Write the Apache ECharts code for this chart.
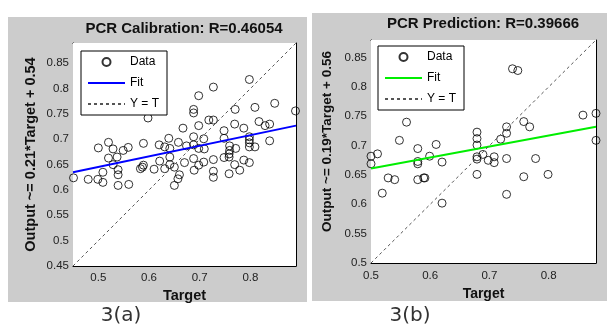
<!DOCTYPE html>
<html><head><meta charset="utf-8">
<script src="https://cdn.jsdelivr.net/npm/echarts@6/dist/echarts.min.js"></script>
<style>html,body{margin:0;padding:0;background:#fff}#c{width:608px;height:327px}</style>
</head><body><div id="c"></div>
<script>
// ---- Calibration (3a) ----
const calTarget = [0.598,0.520,0.500,0.529,0.549,0.559,0.589,0.520,0.537,0.529,0.539,0.509,0.539,0.451,0.480,0.499,0.509,0.539,0.560,0.583,0.589,0.587,0.610,0.620,0.631,0.639,0.641,0.641,0.658,0.621,0.631,0.641,0.650,0.660,0.657,0.650,0.667,
  0.798,0.727,0.698,0.688,0.688,0.770,0.809,0.848,0.889,0.718,0.727,0.698,0.748,0.769,0.787,0.817,0.829,0.838,0.838,0.798,0.798,0.798,0.809,0.798,0.688,0.708,0.748,0.674,0.688,0.698,0.709,0.759,0.759,0.758,0.771,0.670,0.688,0.698,0.708,0.727,0.748,0.758,0.787,0.798,0.769,0.779,0.689,0.727,0.727,0.758];
const calOutput = [0.742,0.694,0.683,0.681,0.678,0.684,0.692,0.663,0.665,0.650,0.640,0.635,0.630,0.624,0.621,0.621,0.615,0.609,0.611,0.642,0.649,0.645,0.641,0.689,0.685,0.702,0.682,0.665,0.694,0.657,0.642,0.650,0.645,0.630,0.622,0.609,0.722,
  0.818,0.803,0.786,0.759,0.752,0.759,0.763,0.771,0.756,0.738,0.738,0.727,0.717,0.730,0.722,0.735,0.727,0.730,0.697,0.705,0.699,0.693,0.685,0.685,0.705,0.701,0.702,0.687,0.689,0.682,0.681,0.687,0.678,0.671,0.682,0.654,0.662,0.649,0.655,0.660,0.664,0.665,0.659,0.654,0.650,0.639,0.639,0.637,0.625,0.632];
const calFitX = [0.45, 0.89];
const calFitY = [0.635, 0.727];
const calLimits = [0.45, 0.89];
const calXTicks = [0.5, 0.6, 0.7, 0.8];
const calYTicks = [0.45, 0.5, 0.55, 0.6, 0.65, 0.7, 0.75, 0.8, 0.85];

// ---- Prediction (3b) ----
const predTarget = [0.560,0.548,0.579,0.610,0.500,0.511,0.500,0.579,0.579,0.599,0.620,0.529,0.540,0.579,0.589,0.591,0.519,0.620,
  0.679,0.679,0.679,0.679,0.679,0.679,0.739,0.748,0.729,0.729,0.719,0.758,0.768,0.858,0.880,0.880,0.689,0.698,0.708,0.708,0.729,0.778,0.758,0.799,0.729];
const predOutput = [0.740,0.709,0.695,0.702,0.682,0.686,0.669,0.673,0.669,0.682,0.672,0.645,0.642,0.642,0.645,0.645,0.619,0.602,
  0.723,0.712,0.701,0.681,0.677,0.651,0.831,0.828,0.732,0.721,0.711,0.741,0.732,0.752,0.755,0.709,0.685,0.675,0.681,0.671,0.678,0.678,0.647,0.651,0.617];
const predFitX = [0.5, 0.88];
const predFitY = [0.661, 0.732];
const predLimits = [0.5, 0.88];
const predXTicks = [0.5, 0.6, 0.7, 0.8];
const predYTicks = [0.5, 0.55, 0.6, 0.65, 0.7, 0.75, 0.8, 0.85];

const titles = ['PCR Calibration: R=0.46054', 'PCR Prediction: R=0.39666'];
const yNames = ['Output ~= 0.21*Target + 0.54', 'Output ~= 0.19*Target + 0.56'];
const xName = 'Target';
const captions = ['3(a)', '3(b)'];
const legendNames = ['Data', 'Fit', 'Y = T'];

const FONT = 'Liberation Sans, Arial, sans-serif';
const zip = (a, b) => a.map((v, i) => [v, b[i]]);

function xAxes(gi, lim, ticks, nameGap, fs, margin) {
  const common = {
    gridIndex: gi, type: 'value', min: lim[0], max: lim[1],
    splitLine: {show: false},
    axisLine: {show: true, onZero: false, lineStyle: {color: '#000', width: 1}},
    axisTick: {show: true, inside: true, length: 4, customValues: ticks, lineStyle: {color: '#000'}}
  };
  return [
    Object.assign({}, common, {
      position: 'bottom',
      axisLabel: {customValues: ticks, fontSize: 11.5, color: '#222', fontFamily: FONT, margin: margin},
      name: xName, nameLocation: 'middle', nameGap: nameGap,
      nameTextStyle: {fontWeight: 'bold', fontSize: fs, color: '#111', fontFamily: FONT}
    }),
    Object.assign({}, common, {position: 'top', axisLabel: {show: false}})
  ];
}
function yAxes(gi, lim, ticks, name, nameGap, fs, pad) {
  const common = {
    gridIndex: gi, type: 'value', min: lim[0], max: lim[1],
    splitLine: {show: false},
    axisLine: {show: true, onZero: false, lineStyle: {color: '#000', width: 1}},
    axisTick: {show: true, inside: true, length: 4, customValues: ticks, lineStyle: {color: '#000'}}
  };
  return [
    Object.assign({}, common, {
      position: 'left',
      axisLabel: {customValues: ticks, fontSize: 11.5, color: '#222', fontFamily: FONT, margin: 4},
      name: name, nameLocation: 'middle', nameGap: nameGap, nameRotate: 90,
      nameTextStyle: {fontWeight: 'bold', fontSize: fs, color: '#111', fontFamily: FONT, padding: pad}
    }),
    Object.assign({}, common, {position: 'right', axisLabel: {show: false}})
  ];
}

const dataStyle = {color: 'rgba(255,255,255,0)', borderColor: '#000', borderWidth: 1};
const hiddenSym = {color: 'rgba(0,0,0,0)', borderWidth: 0, opacity: 0};

const chart = echarts.init(document.getElementById('c'), null, {renderer: 'canvas'});
chart.setOption({
  animation: false,
  backgroundColor: '#fff',
  graphic: {
    elements: [
      {type: 'rect', z: -100, shape: {x: 8, y: 17, width: 299, height: 285}, style: {fill: '#cccccc'}},
      {type: 'rect', z: -100, shape: {x: 312, y: 13, width: 295, height: 288}, style: {fill: '#cccccc'}}
    ]
  },
  title: [
    {text: titles[0], left: 184, top: 21, textAlign: 'center', padding: 0,
     textStyle: {fontSize: 15, fontWeight: 'bold', color: '#111', fontFamily: FONT}},
    {text: titles[1], left: 483, top: 16, textAlign: 'center', padding: 0,
     textStyle: {fontSize: 15, fontWeight: 'bold', color: '#111', fontFamily: FONT}},
    {text: captions[0], left: 121, top: 306, textAlign: 'center', padding: 0,
     textStyle: {fontSize: 20, fontWeight: 'normal', color: '#333', fontFamily: 'DejaVu Sans'}},
    {text: captions[1], left: 410, top: 306, textAlign: 'center', padding: 0,
     textStyle: {fontSize: 20, fontWeight: 'normal', color: '#333', fontFamily: 'DejaVu Sans'}}
  ],
  legend: [
    {orient: 'vertical', left: 81, top: 51, data: legendNames,
     itemWidth: 37, itemHeight: 8, itemGap: 9, padding: [5, 8, 5, 6],
     borderColor: '#000', borderWidth: 1, backgroundColor: '#fff', selectedMode: false,
     textStyle: {fontSize: 12, color: '#000', fontFamily: FONT}},
    {orient: 'vertical', left: 378, top: 46, data: legendNames.map(n => n + ' (b)'),
     formatter: n => n.replace(' (b)', ''),
     itemWidth: 37, itemHeight: 8, itemGap: 9, padding: [5, 8, 5, 6],
     borderColor: '#000', borderWidth: 1, backgroundColor: '#fff', selectedMode: false,
     textStyle: {fontSize: 12, color: '#000', fontFamily: FONT}}
  ],
  grid: [
    {left: 73, top: 43, width: 223, height: 223, show: true, backgroundColor: '#fff', borderWidth: 0, z: 1},
    {left: 371, top: 40, width: 225, height: 223, show: true, backgroundColor: '#fff', borderWidth: 0, z: 1}
  ],
  xAxis: [].concat(xAxes(0, calLimits, calXTicks, 20, 14.5, 6), xAxes(1, predLimits, predXTicks, 21, 14, 7)),
  yAxis: [].concat(yAxes(0, calLimits, calYTicks, yNames[0], 35, 14.5, 0), yAxes(1, predLimits, predYTicks, yNames[1], 37, 13.5, [0, 0, 0, 20])),
  series: [
    {name: 'Data', type: 'scatter', xAxisIndex: 0, yAxisIndex: 0, data: zip(calTarget, calOutput),
     symbol: 'circle', symbolSize: 8, itemStyle: dataStyle},
    {name: 'Fit', type: 'line', xAxisIndex: 0, yAxisIndex: 0, data: zip(calFitX, calFitY),
     symbol: 'none', lineStyle: {color: '#0000ff', width: 2}, itemStyle: hiddenSym},
    {name: 'Y = T', type: 'line', xAxisIndex: 0, yAxisIndex: 0, data: zip(calLimits, calLimits),
     symbol: 'none', lineStyle: {color: '#555', width: 1, type: [3, 3]}, itemStyle: hiddenSym},
    {name: 'Data (b)', type: 'scatter', xAxisIndex: 2, yAxisIndex: 2, data: zip(predTarget, predOutput),
     symbol: 'circle', symbolSize: 8, itemStyle: dataStyle},
    {name: 'Fit (b)', type: 'line', xAxisIndex: 2, yAxisIndex: 2, data: zip(predFitX, predFitY),
     symbol: 'none', lineStyle: {color: '#00ee00', width: 2}, itemStyle: hiddenSym},
    {name: 'Y = T (b)', type: 'line', xAxisIndex: 2, yAxisIndex: 2, data: zip(predLimits, predLimits),
     symbol: 'none', lineStyle: {color: '#555', width: 1, type: [3, 3]}, itemStyle: hiddenSym}
  ]
});
</script>
</body></html>
